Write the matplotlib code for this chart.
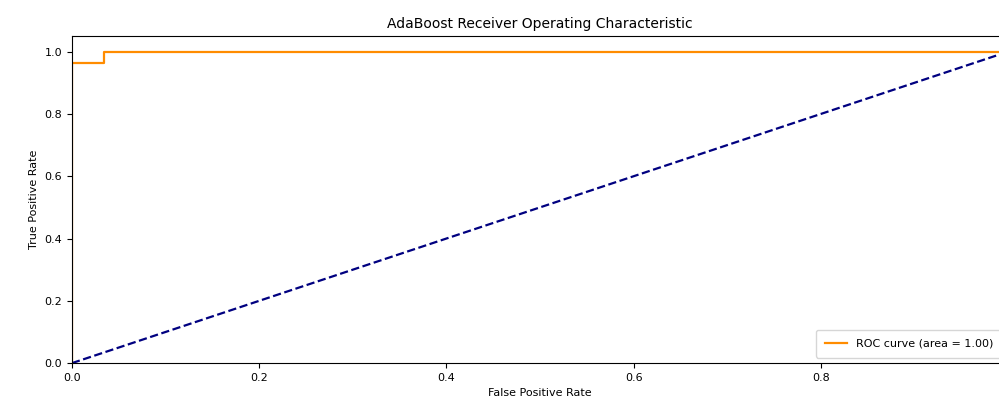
import matplotlib
matplotlib.use("Agg")
import matplotlib.pyplot as plt

# ROC points
fpr = [0.0, 0.0, 0.034, 0.034, 1.0]
tpr = [0.0, 0.964, 0.964, 1.0, 1.0]
roc_auc = 1.00
chance = [0.0, 1.0]


def plot_roc():
    fig = plt.figure(figsize=(9.99, 4.15), dpi=100)
    # axes runs a bit past the right edge, like the cropped original
    ax = fig.add_axes([0.072, 0.125, 0.937, 0.788])

    ax.plot(fpr, tpr, color="darkorange", lw=1.6,
            label="ROC curve (area = %0.2f)" % roc_auc)
    ax.plot(chance, chance, color="navy", lw=1.6, linestyle="--")

    ax.set_xlim(0.0, 1.0)
    ax.set_ylim(0.0, 1.05)
    ax.set_xlabel("False Positive Rate", fontsize=8)
    ax.set_ylabel("True Positive Rate", fontsize=8)
    ax.set_title("AdaBoost Receiver Operating Characteristic", fontsize=10)
    ax.tick_params(labelsize=8)
    ax.legend(loc="lower right", fontsize=8, borderpad=0.8)

    fig.savefig("out.png", dpi=100)


if __name__ == "__main__":
    plot_roc()
